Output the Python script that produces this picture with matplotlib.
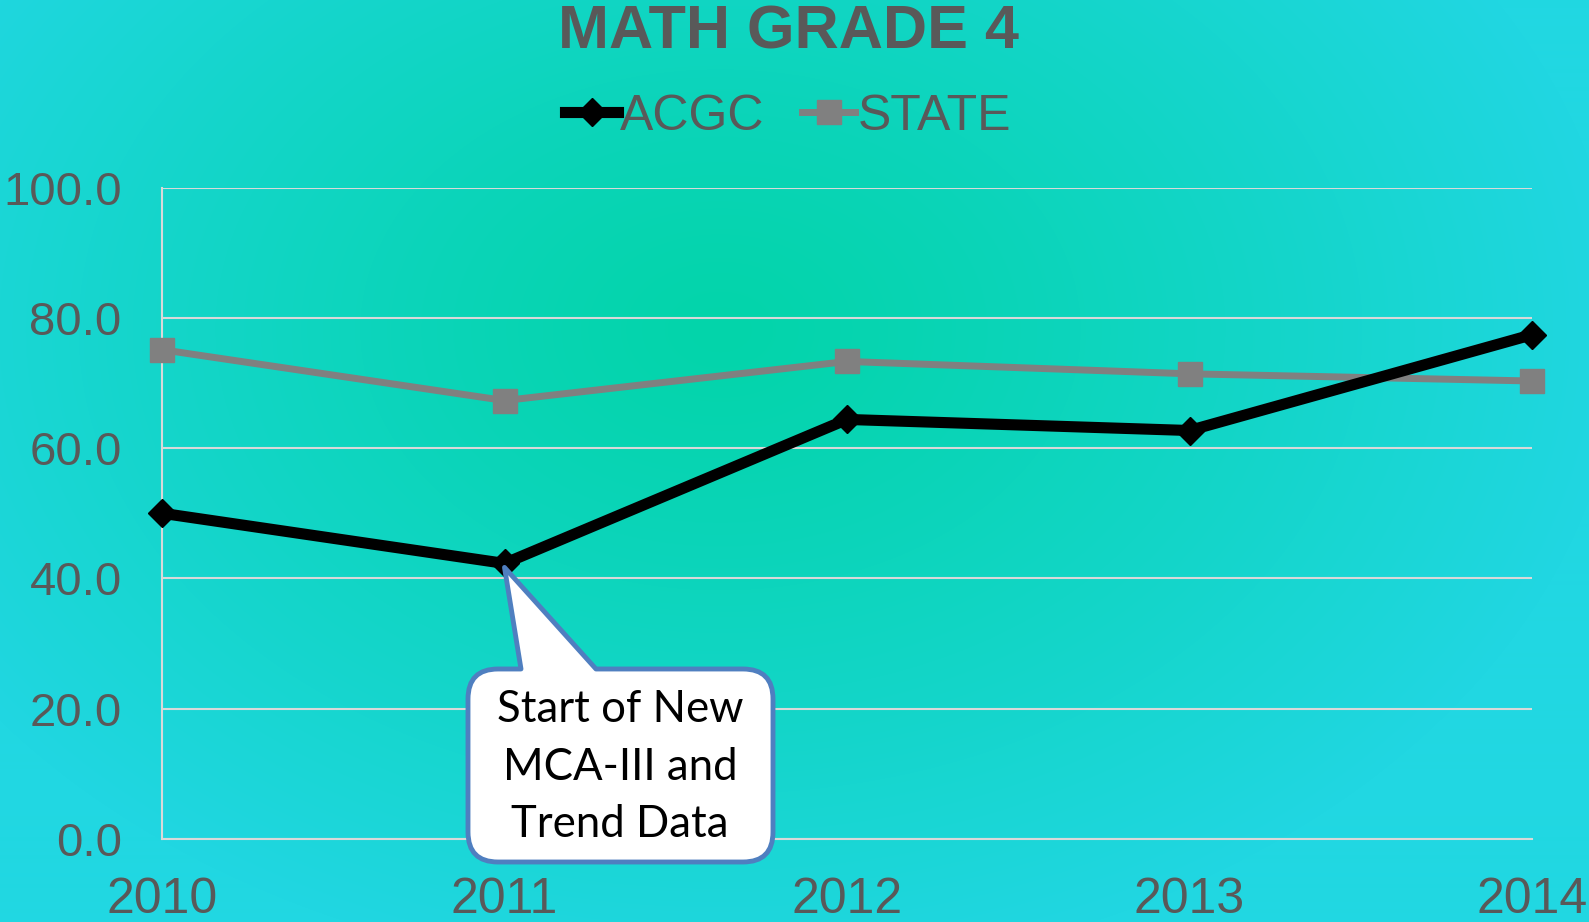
import numpy as np
import matplotlib
matplotlib.use("Agg")
import matplotlib.pyplot as plt
from matplotlib.path import Path
from matplotlib.patches import PathPatch

years = [2010, 2011, 2012, 2013, 2014]
acgc = [50.0, 42.3, 64.4, 62.7, 77.4]
state = [75.1, 67.3, 73.3, 71.4, 70.3]
yticks = [0, 20, 40, 60, 80, 100]
title = "MATH GRADE 4"
callout_text = "Start of New\nMCA-III and\nTrend Data"

W, H = 1589, 922
TXT = "#595959"

plt.rcParams["font.family"] = ["Liberation Sans", "DejaVu Sans"]
fig = plt.figure(figsize=(W / 100, H / 100), dpi=100)

# radial teal background
bg = fig.add_axes([0, 0, 1, 1], zorder=0)
yy, xx = np.mgrid[0:H, 0:W]
d = np.sqrt(((xx - 720) / 900.0) ** 2 + ((yy - 330) / 650.0) ** 2)
d = np.clip(d, 0, 1) ** 1.2
c0 = np.array([3, 212, 170]) / 255
c1 = np.array([33, 215, 226]) / 255
img = c0[None, None, :] * (1 - d[..., None]) + c1[None, None, :] * d[..., None]
bg.imshow(img, aspect="auto", extent=[0, 1, 0, 1], origin="upper")
bg.axis("off")

ax = fig.add_axes([162 / W, 83 / H, 1370 / W, 651.5 / H], zorder=1)
ax.patch.set_alpha(0)
ax.plot(years, state, color="#808080", lw=5, marker="s", ms=17,
        solid_joinstyle="round", zorder=3, label="STATE", clip_on=False)
ax.plot(years, acgc, color="black", lw=8, marker="D", ms=14,
        solid_joinstyle="round", zorder=4, label="ACGC", clip_on=False)

ax.set_xlim(2010, 2014)
ax.set_ylim(0, 100)
ax.set_xticks(years)
ax.set_xticklabels([str(y) for y in years])
ax.set_yticks(yticks)
ax.set_yticklabels([f"{v:.1f}" for v in yticks])
ax.tick_params(length=0, labelcolor=TXT)
ax.tick_params(axis="y", labelsize=34, pad=29)
ax.tick_params(axis="x", labelsize=36, pad=27)
ax.grid(axis="y", color="#D9D9D9", lw=1.5)
for s in ["top", "right"]:
    ax.spines[s].set_visible(False)
for s in ["left", "bottom"]:
    ax.spines[s].set_color("#D9D9D9")
    ax.spines[s].set_linewidth(1.5)
for lab in ax.get_xticklabels() + ax.get_yticklabels():
    lab.set_clip_on(False)

fig.text(0.496, 1 - 33 / H, title, ha="center", va="center", fontsize=44,
         fontweight="bold", color=TXT)

h, l = ax.get_legend_handles_labels()
leg = fig.legend(h[::-1], l[::-1], loc="center", bbox_to_anchor=(0.496, 1 - 117 / H),
                 ncol=2, frameon=False, fontsize=36, handlelength=1.05,
                 handletextpad=0.05, columnspacing=0.75, labelcolor=TXT)

# callout bubble pointing at 2011 ACGC value
fig.canvas.draw()
tip = fig.transFigure.inverted().transform(ax.transData.transform((years[1], acgc[1])))
tx, ty = tip[0] * W, tip[1] * H - 4
L, R, T, B, r = 468, 773, H - 669, H - 862, 30
b1, b2 = 521, 596
verts = [(L + r, T), (b1, T), (tx, ty), (b2, T), (R - r, T), (R, T), (R, T - r),
         (R, B + r), (R, B), (R - r, B), (L + r, B), (L, B), (L, B + r),
         (L, T - r), (L, T), (L + r, T), (L + r, T)]
codes = [Path.MOVETO, Path.LINETO, Path.LINETO, Path.LINETO, Path.LINETO,
         Path.CURVE3, Path.CURVE3, Path.LINETO, Path.CURVE3, Path.CURVE3,
         Path.LINETO, Path.CURVE3, Path.CURVE3, Path.LINETO, Path.CURVE3,
         Path.CURVE3, Path.CLOSEPOLY]
verts = [(x / W, y / H) for x, y in verts]
bubble = PathPatch(Path(verts, codes), facecolor="white", edgecolor="#4F7FC0",
                   lw=3.5, transform=fig.transFigure, zorder=5, joinstyle="round")
fig.add_artist(bubble)
fig.text(620 / W, 1 - 767 / H, callout_text, ha="center", va="center",
         fontsize=31.5, linespacing=1.5, color="black", zorder=6,
         family=["Lato", "DejaVu Sans"])

fig.savefig("out.png", dpi=100)
